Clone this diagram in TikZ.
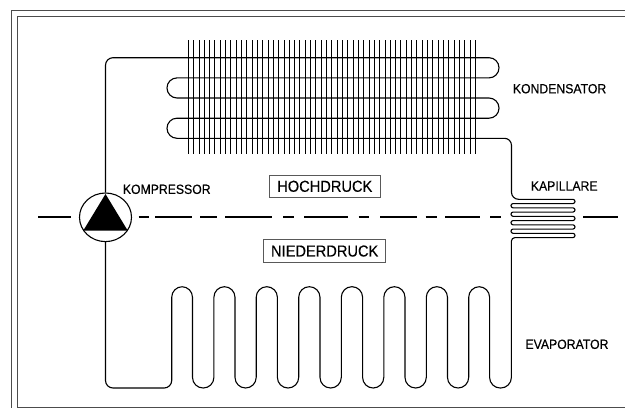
\documentclass[tikz,border=0pt]{standalone}
\usepackage{fontspec}
\setmainfont{Liberation Sans}
\newfontfamily\din[FakeBold=0.3,FakeStretch=0.92]{Liberation Sans}
\usetikzlibrary{shapes.geometric}
\tikzset{
  pipe/.style={line width=1.1pt,black,line join=round},
  fin/.style={line width=0.85pt,black},
  centre/.style={line width=1.3pt,black},
  framein/.style={line width=1.2pt,black!70},
  lab/.style={anchor=west,inner sep=0pt,font=\din\fontsize{13.3}{15}\selectfont},
  boxlab/.style={draw=black!65,line width=0.9pt,inner sep=0pt,font=\din\fontsize{15.9}{18}\selectfont,fill=white},
}
\begin{document}
\begin{tikzpicture}[x=1pt,y=-1pt]
\useasboundingbox (0,0) rectangle (625,408);
\fill[white] (0,0) rectangle (625,408);
% frame
\draw[framein] (625,10.3) -- (11.8,10.3) -- (11.8,408);
\draw[framein] (625,16.3) -- (17.8,16.3) -- (17.8,407.3) -- (625,407.3);
% fins
\foreach \k in {0,...,54}
  \draw[fin] ({188.3+5.315*\k},40) -- ({188.3+5.315*\k},154.3);
% centre line
\foreach \a/\b in {38.3/71,138.7/149.3,155.3/192,200/216.7,225/271.7,283.3/294,304/348.3,358.7/369,380/417.3,425.7/437.3,445/480,490/500.7,583.3/618.3}
  \draw[centre] (\a,217) -- (\b,217);
% compressor
\node[ellipse,draw,line width=1.1pt,inner sep=0pt,minimum width=52pt,minimum height=48.6pt,fill=white] (komp) at (105.5,217.3) {};
\fill[black] (105.5,194) -- (127.8,230.7) -- (83.2,230.7) -- cycle;
% condenser
\coordinate (capin) at (511.5,199.3);
\draw[pipe,rounded corners=7.5pt] (komp.north) -- (105.5,57.7) -- (270,57.7) [rounded corners=10pt]
  -- (499,57.7) -- (499,77.9) -- (167,77.9) -- (167,98) -- (499,98) -- (499,118.2) -- (167,118.2) -- (167,138.3) -- (300,138.3)
  [rounded corners=7pt] -- (511.5,138.3) -- (capin) -- (540,199.3);
% capillary
\draw[pipe,rounded corners=2.1pt] (540,199.3) -- (575,199.3) -- (575,203.55) -- (511,203.55) -- (511,207.8) -- (575,207.8) -- (575,212.05) -- (511,212.05) -- (511,216.3) -- (575,216.3) -- (575,220.55) -- (511,220.55) -- (511,224.8) -- (575,224.8) -- (575,229.05) -- (511,229.05) -- (511,233.3) -- (575,233.3) -- (575,237.6) -- (530,237.6);
\coordinate (evapend) at (511.4,388);
\draw[pipe,rounded corners=3.5pt] (530,237.6) -- (511.4,237.6) -- (511.4,300);
% evaporator
\draw[pipe,rounded corners=7.5pt] (komp.south) -- (105.5,388) -- (171.7,388) [rounded corners=10.6pt]
  -- (171.7,286.7) -- (192.5,286.7) -- (192.5,388) -- (213.9,388) -- (213.9,286.7) -- (235,286.7) -- (235,388) -- (256.2,388) -- (256.2,286.7) -- (277.4,286.7) -- (277.4,388) -- (298.7,388) -- (298.7,286.7) -- (320,286.7) -- (320,388) -- (341.3,388) -- (341.3,286.7) -- (362.6,286.7) -- (362.6,388) -- (383.8,388) -- (383.8,286.7) -- (405,286.7) -- (405,388) -- (426.3,388) -- (426.3,286.7) -- (447.5,286.7) -- (447.5,388) -- (468.7,388) -- (468.7,286.7) -- (489.6,286.7) -- (489.6,388) -- (evapend) -- (511.4,300);
% labels
\node[lab] (l1) at (512.7,88.7) {KONDENSATOR};
\node[lab] (l2) at (122.7,189.3) {KOMPRESSOR};
\node[lab] (l3) at (530.7,186) {KAPILLARE};
\node[lab] (l4) at (525.3,344.3) {EVAPORATOR};
\node[boxlab,minimum width=111pt,minimum height=22pt,text width=109pt,align=center] (hd) at (324.8,186.3) {HOCHDRUCK};
\node[boxlab,minimum width=122pt,minimum height=22.6pt,text width=120pt,align=center] (nd) at (324.7,251) {NIEDERDRUCK};
\end{tikzpicture}
\end{document}
